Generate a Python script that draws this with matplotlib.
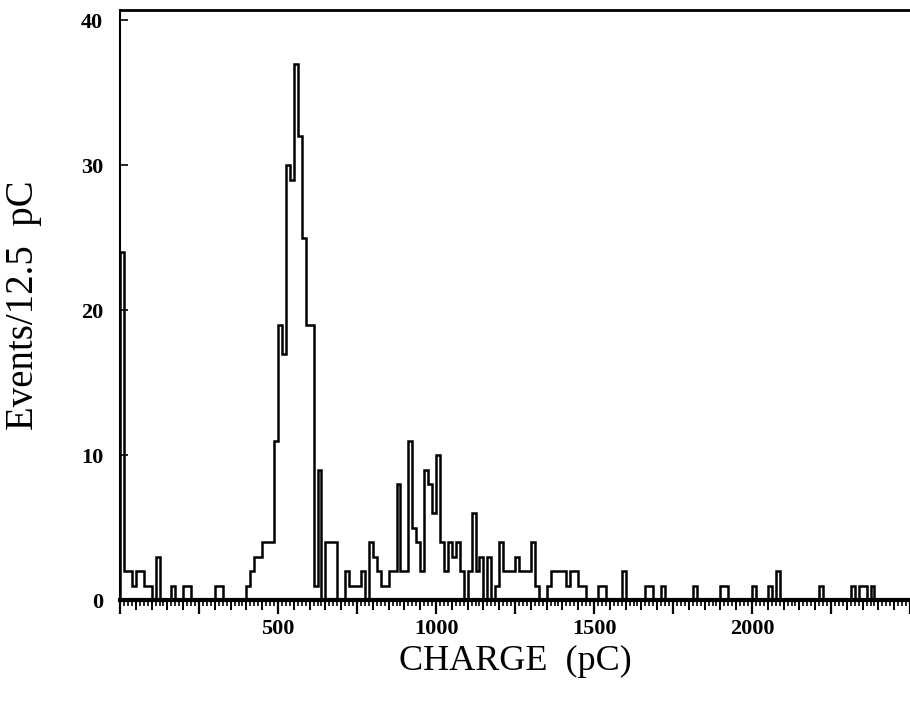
import numpy as np
import matplotlib
matplotlib.use("Agg")
import matplotlib.pyplot as plt
from matplotlib.ticker import MultipleLocator, FuncFormatter

# charge histogram, 12.5 pC bins from 0 to 2500 pC
bin_width = 12.5
counts = [
    24, 2, 2, 1, 2, 2, 1, 1, 0, 3, 0, 0, 0, 1, 0, 0, 1, 1, 0, 0,
    0, 0, 0, 0, 1, 1, 0, 0, 0, 0, 0, 0, 1, 2, 3, 3, 4, 4, 4, 11,
    19, 17, 30, 29, 37, 32, 25, 19, 19, 1, 9, 0, 4, 4, 4, 0, 0, 2, 1, 1,
    1, 2, 0, 4, 3, 2, 1, 1, 2, 2, 8, 2, 2, 11, 5, 4, 2, 9, 8, 6,
    10, 4, 2, 4, 3, 4, 2, 0, 2, 6, 2, 3, 0, 3, 0, 1, 4, 2, 2, 2,
    3, 2, 2, 2, 4, 1, 0, 0, 1, 2, 2, 2, 2, 1, 2, 2, 1, 1, 0, 0,
    0, 1, 1, 0, 0, 0, 0, 2, 0, 0, 0, 0, 0, 1, 1, 0, 0, 1, 0, 0,
    0, 0, 0, 0, 0, 1, 0, 0, 0, 0, 0, 0, 1, 1, 0, 0, 0, 0, 0, 0,
    1, 0, 0, 0, 1, 0, 2, 0, 0, 0, 0, 0, 0, 0, 0, 0, 0, 1, 0, 0,
    0, 0, 0, 0, 0, 1, 0, 1, 1, 0, 1, 0, 0, 0, 0, 0, 0, 0, 0, 0,
]
x_labels = [500, 1000, 1500, 2000]
y_ticks = [0, 10, 20, 30, 40]

edges = np.arange(len(counts) + 1) * bin_width

serif = "Liberation Serif"

fig = plt.figure(figsize=(9.1, 7.04), dpi=100)
ax = fig.add_axes([120 / 910, 104 / 704, 790 / 910, 590 / 704])

ax.stairs(counts, edges, color="black", linewidth=1.8, baseline=0)

ax.set_xlim(0, 2500)
ax.set_ylim(0, 40.7)

# frame: left, top, thick bottom, no right
ax.spines["right"].set_visible(False)
ax.spines["bottom"].set_linewidth(3)
ax.spines["top"].set_linewidth(2)
ax.spines["left"].set_linewidth(1.5)

# x ticks: long every 250, small every bin, labels at 500s
ax.xaxis.set_major_locator(MultipleLocator(250))
ax.xaxis.set_minor_locator(MultipleLocator(12.5))
ax.xaxis.set_major_formatter(FuncFormatter(
    lambda v, p: "%d" % v if int(round(v)) in x_labels else ""))
ax.tick_params(axis="x", which="major", direction="out", length=10, width=1.6, pad=4)
ax.tick_params(axis="x", which="minor", direction="out", length=4, width=1.2)
mid = ax.secondary_xaxis("bottom")
mid.set_xticks(np.arange(0, 2501, 50))
mid.set_xticklabels([])
mid.tick_params(direction="out", length=7, width=1.4)
mid.spines["bottom"].set_visible(False)

ax.set_yticks(y_ticks)
ax.tick_params(axis="y", direction="in", length=6, width=1.2, pad=12)

for lab in ax.get_xticklabels() + ax.get_yticklabels():
    lab.set_fontfamily(serif)
    lab.set_fontweight("bold")
    lab.set_fontsize(16)

ax.set_xlabel("CHARGE  (pC)", fontfamily=serif, fontsize=26, labelpad=4)
ax.set_ylabel("Events/12.5  pC", fontfamily=serif, fontsize=28)
ax.yaxis.set_label_coords(-0.099, 0.5)

fig.savefig("out.png", dpi=100)
